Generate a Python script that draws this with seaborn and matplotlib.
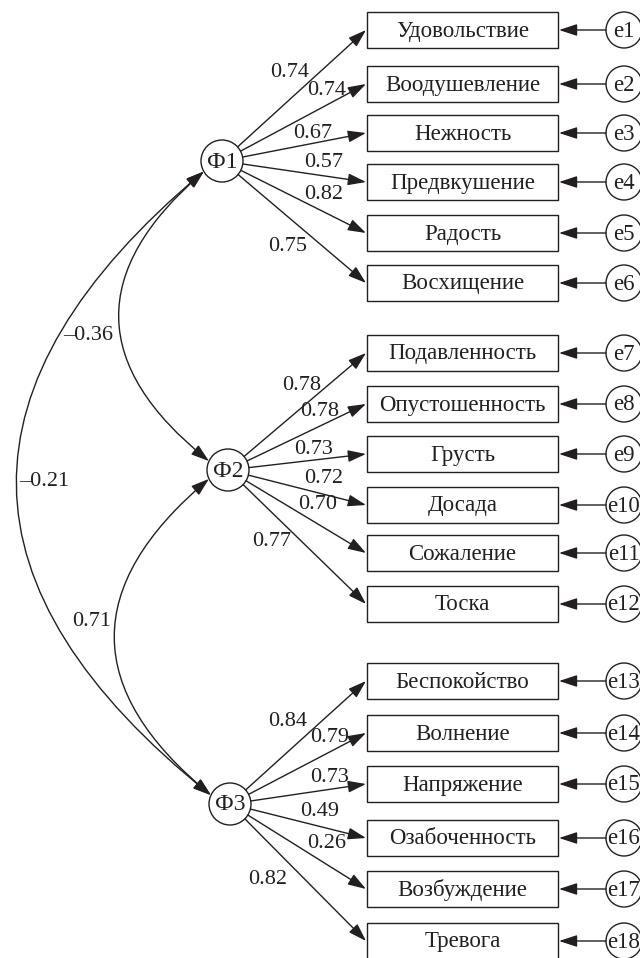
import numpy as np
import matplotlib
matplotlib.use('Agg')
import matplotlib.pyplot as plt
import seaborn as sns
from matplotlib.patches import Circle, Rectangle, FancyArrowPatch

# data
factors = ['Ф1', 'Ф2', 'Ф3']
indicators = ['Удовольствие', 'Воодушевление', 'Нежность', 'Предвкушение', 'Радость', 'Восхищение',
              'Подавленность', 'Опустошенность', 'Грусть', 'Досада', 'Сожаление', 'Тоска',
              'Беспокойство', 'Волнение', 'Напряжение', 'Озабоченность', 'Возбуждение', 'Тревога']
errors = ['e1', 'e2', 'e3', 'e4', 'e5', 'e6', 'e7', 'e8', 'e9',
          'e10', 'e11', 'e12', 'e13', 'e14', 'e15', 'e16', 'e17', 'e18']
factor_of = [0, 0, 0, 0, 0, 0, 1, 1, 1, 1, 1, 1, 2, 2, 2, 2, 2, 2]
loadings = [0.74, 0.74, 0.67, 0.57, 0.82, 0.75,
            0.78, 0.78, 0.73, 0.72, 0.70, 0.77,
            0.84, 0.79, 0.73, 0.49, 0.26, 0.82]
cov_pairs = [(0, 1), (1, 2), (0, 2)]
cov_values = [-0.36, 0.71, -0.21]

# layout (pixels, y down)
box_y = [30, 84, 133, 182, 233, 283,
         353, 404, 454, 505, 553, 604,
         681, 733, 784, 838, 889, 941]
box_x0, box_x1, box_h = 367, 558, 36
err_x, err_r = 624, 18
factor_xy = [(222, 161), (228, 470), (230, 804)]
factor_r = 21
load_label_xy = [(290, 72), (327, 90), (313, 133), (324, 162), (324, 194), (288, 246),
                 (302, 386), (320, 412), (314, 449), (324, 478), (318, 504), (272, 541),
                 (288, 721), (330, 738), (330, 778), (320, 811), (327, 844), (268, 879)]
# attach angles (deg, screen coords) on factor circles for covariance arcs
cov_angles = [(150, 205), (155, 205), (150, 205)]
cov_rad = [0.6, 0.6, 0.61]
cov_label_xy = [(88, 336), (92, 621), (44, 481)]

ink = '#231f20'
sns.set_theme(style='white')
plt.rcParams['font.family'] = ['Liberation Serif', 'DejaVu Serif']

fig = plt.figure(figsize=(6.4, 9.58), dpi=100)
ax = fig.add_axes([0, 0, 1, 1])
ax.set_xlim(0, 640)
ax.set_ylim(958, 0)
ax.axis('off')

fs = 16.5
fs_num = 16
head = '-|>,head_length=0.55,head_width=0.18'
head2 = '<|-|>,head_length=0.55,head_width=0.18'


def arrow(p0, p1, style=head, **kw):
    a = FancyArrowPatch(p0, p1, arrowstyle=style, mutation_scale=20, color=ink,
                        lw=1.0, shrinkA=0, shrinkB=0, **kw)
    ax.add_patch(a)


# factors
for name, (fx, fy) in zip(factors, factor_xy):
    ax.add_patch(Circle((fx, fy), factor_r, fill=False, ec=ink, lw=1.0))
    ax.text(fx, fy + 1, name, ha='center', va='center', fontsize=17, color=ink)

# indicators, errors and loadings
for i, name in enumerate(indicators):
    cy = box_y[i]
    ax.add_patch(Rectangle((box_x0, cy - box_h / 2), box_x1 - box_x0, box_h,
                           fill=False, ec=ink, lw=1.0))
    ax.text((box_x0 + box_x1) / 2, cy + 1, name, ha='center', va='center', fontsize=fs, color=ink)

    ax.add_patch(Circle((err_x, cy), err_r, fill=False, ec=ink, lw=1.0))
    ax.text(err_x, cy + 1, errors[i], ha='center', va='center', fontsize=fs, color=ink)
    arrow((err_x - err_r, cy), (box_x1 + 1, cy))

    fx, fy = factor_xy[factor_of[i]]
    v = np.array([box_x0 - fx, cy - fy], dtype=float)
    v /= np.hypot(*v)
    arrow((fx + factor_r * v[0], fy + factor_r * v[1]), (box_x0 - 1, cy))
    lx, ly = load_label_xy[i]
    ax.text(lx, ly, f'{loadings[i]:.2f}', ha='center', va='center', fontsize=fs_num, color=ink)

# covariances
for (a, b), val, (aa, ab), rad, (lx, ly) in zip(cov_pairs, cov_values, cov_angles, cov_rad, cov_label_xy):
    ax_, ay_ = factor_xy[a]
    bx_, by_ = factor_xy[b]
    pa = (ax_ + factor_r * np.cos(np.radians(aa)), ay_ + factor_r * np.sin(np.radians(aa)))
    pb = (bx_ + factor_r * np.cos(np.radians(ab)), by_ + factor_r * np.sin(np.radians(ab)))
    arrow(pa, pb, style=head2, connectionstyle=f'arc3,rad={rad}')
    txt = f'{val:.2f}'.replace('-', '–')
    ax.text(lx, ly, txt, ha='center', va='center', fontsize=fs_num, color=ink)

fig.savefig('out.png', dpi=100)
